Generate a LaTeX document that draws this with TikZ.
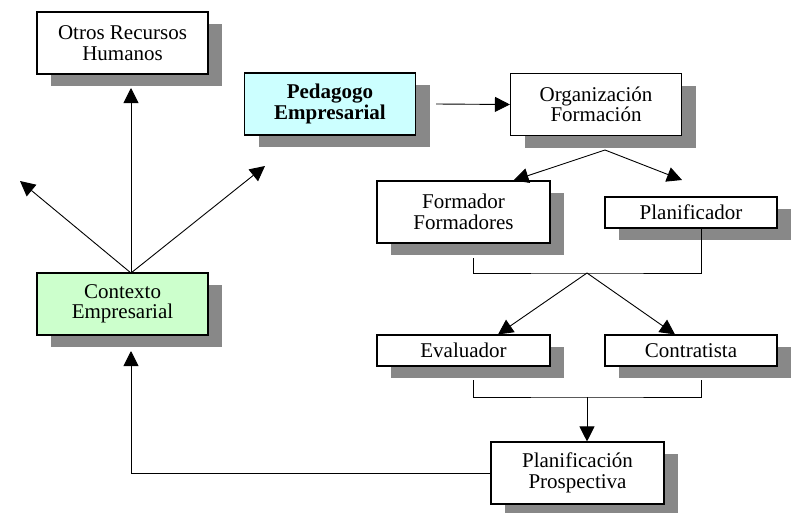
\documentclass[tikz,border=0pt]{standalone}
\usepackage{fontspec}
\setmainfont{Liberation Serif}
\usetikzlibrary{arrows.meta,shadows}

\definecolor{cyanbox}{HTML}{CCFFFF}
\definecolor{greenbox}{HTML}{CCFFCC}
\definecolor{shadowgray}{HTML}{888888}

\tikzset{
    box/.style={draw, line width=1.1pt, fill=white, text centered,
        inner sep=0pt, align=center,
        font=\fontsize{21}{20.5}\selectfont,
        drop shadow={shadow xshift=14pt, shadow yshift=-12pt,
            fill=shadowgray, opacity=1}},
    bigbox/.style={box, minimum width=171pt, minimum height=62pt},
    smallbox/.style={box, minimum width=172pt, minimum height=31pt},
    link/.style={line width=0.9pt, -{Triangle[length=15pt,width=15pt]}},
    plain/.style={line width=0.9pt}
}

\begin{document}
\begin{tikzpicture}[x=1pt, y=-1pt]

        \useasboundingbox (0,0) rectangle (795,512);

        % Otros Recursos Humanos
        \node[bigbox] (otros) at (122.5,43) {Otros Recursos\\Humanos};

        % Pedagogo Empresarial
        \node[bigbox, fill=cyanbox, font=\fontsize{21}{20.5}\selectfont\bfseries]
            (pedagogo) at (330,104) {Pedagogo\\Empresarial};

        % Organizacion Formacion
        \node[bigbox] (org) at (596,104.5) {Organización\\Formación};

        % Formador / Planificador
        \node[bigbox, minimum width=173pt] (formador) at (463.5,212) {Formador\\Formadores};
        \node[smallbox] (planif) at (691,212.5) {Planificador};

        % Evaluador / Contratista
        \node[smallbox, minimum width=173pt] (evaluador) at (463.5,350.5) {Evaluador};
        \node[smallbox] (contratista) at (691,350.5) {Contratista};

        % Planificacion Prospectiva
        \node[bigbox, minimum width=173pt] (prosp) at (577.5,473) {Planificación\\Prospectiva};

        % Contexto Empresarial
        \node[bigbox, fill=greenbox] (contexto) at (122.5,304) {Contexto\\Empresarial};

        % free ends and joints
        \coordinate (hub) at (131,273);
        \coordinate (upleft) at (20,181);
        \coordinate (upright) at (265,166);
        \coordinate (orgfoot) at (605,150);
        \coordinate (planiftip) at (682,180);
        \coordinate (joinA) at (587,273);
        \coordinate (joinB) at (587,397);
        \coordinate (corner) at (131,473);

        % Contexto -> outwards
        \draw[link] (hub) -- (hub |- 0,88);
        \draw[link] (hub) -- (upleft);
        \draw[link] (hub) -- (upright);

        % Pedagogo -> Organizacion
        \draw[link] ([xshift=20pt]pedagogo.east) -- (org.west);

        % Organizacion -> Formador, Planificador
        \draw[link] (orgfoot) -- ([xshift=50pt]formador.north);
        \draw[link] (orgfoot) -- (planiftip);

        % Formador, Planificador -> Evaluador, Contratista
        \draw[plain] (473,258) |- (joinA) -| (planif.south -| 701,0);
        \draw[link] (joinA) -- ([xshift=34.5pt]evaluador.north);
        \draw[link] (joinA) -- ([xshift=-16pt]contratista.north);

        % Evaluador, Contratista -> Planificacion
        \draw[plain] (473,380) |- (joinB) -| (701,380);
        \draw[link] (joinB) -- (prosp.north -| joinB);

        % Planificacion -> Contexto
        \draw[link] (prosp.west) -- (corner) -- (131,351);

    \end{tikzpicture}
\end{document}
